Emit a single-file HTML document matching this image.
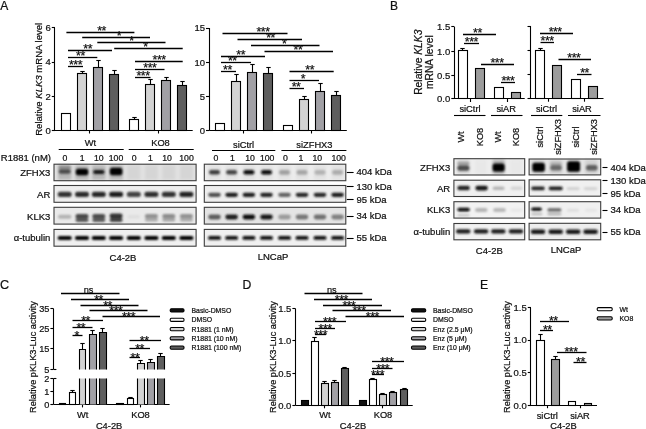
<!DOCTYPE html>
<html><head><meta charset="utf-8"><title>Figure</title>
<style>
html,body{margin:0;padding:0;background:#fff;}
body{width:646px;height:429px;overflow:hidden;}
svg{display:block;will-change:transform;filter:blur(0.3px);}
svg text{font-family:"Liberation Sans", sans-serif;fill:#111;stroke:#111;stroke-width:0.22px;}
</style></head>
<body>
<svg width="646" height="429" viewBox="0 0 646 429">
<rect width="646" height="429" fill="#fff"/>
<text x="0.3" y="9.6" font-size="12" text-anchor="start">A</text>
<text x="389.9" y="9.6" font-size="12" text-anchor="start">B</text>
<text x="0" y="288.7" font-size="12.6" text-anchor="start">C</text>
<text x="242.6" y="288.7" font-size="12.2" text-anchor="start">D</text>
<text x="480" y="288.7" font-size="12.2" text-anchor="start">E</text>
<line x1="54.5" y1="27.8" x2="54.5" y2="130.5" stroke="#000" stroke-width="1.1"/>
<line x1="51.8" y1="27.5" x2="55" y2="27.5" stroke="#000" stroke-width="1.1"/>
<text x="50.8" y="31.22" font-size="9.5" text-anchor="end">6</text>
<line x1="51.8" y1="62.5" x2="55" y2="62.5" stroke="#000" stroke-width="1.1"/>
<text x="50.8" y="65.42" font-size="9.5" text-anchor="end">4</text>
<line x1="51.8" y1="96.5" x2="55" y2="96.5" stroke="#000" stroke-width="1.1"/>
<text x="50.8" y="99.72" font-size="9.5" text-anchor="end">2</text>
<line x1="51.8" y1="130.5" x2="55" y2="130.5" stroke="#000" stroke-width="1.1"/>
<text x="50.8" y="133.92" font-size="9.5" text-anchor="end">0</text>
<line x1="55" y1="130.5" x2="192.7" y2="130.5" stroke="#000" stroke-width="1.1"/>
<line x1="89.5" y1="130.5" x2="89.5" y2="133.5" stroke="#000" stroke-width="1.1"/>
<line x1="158.5" y1="130.5" x2="158.5" y2="133.5" stroke="#000" stroke-width="1.1"/>
<rect x="61.5" y="113.5" width="9" height="17" fill="#ffffff" stroke="#000" stroke-width="1.1"/>
<line x1="82.5" y1="73" x2="82.5" y2="71.2" stroke="#000" stroke-width="1.1"/>
<line x1="80.3" y1="71.5" x2="84.7" y2="71.5" stroke="#000" stroke-width="1.1"/>
<rect x="77.5" y="73.5" width="9" height="57" fill="#d3d3d3" stroke="#000" stroke-width="1.1"/>
<line x1="98.5" y1="67" x2="98.5" y2="60.2" stroke="#000" stroke-width="1.1"/>
<line x1="96.3" y1="60.5" x2="100.7" y2="60.5" stroke="#000" stroke-width="1.1"/>
<rect x="93.5" y="67.5" width="9" height="63" fill="#a1a0a5" stroke="#000" stroke-width="1.1"/>
<line x1="114.5" y1="74" x2="114.5" y2="70.3" stroke="#000" stroke-width="1.1"/>
<line x1="112.3" y1="70.5" x2="116.7" y2="70.5" stroke="#000" stroke-width="1.1"/>
<rect x="109.5" y="74.5" width="9" height="56" fill="#5e5e5e" stroke="#000" stroke-width="1.1"/>
<line x1="134.5" y1="119" x2="134.5" y2="117.2" stroke="#000" stroke-width="1.1"/>
<line x1="132.3" y1="117.5" x2="136.7" y2="117.5" stroke="#000" stroke-width="1.1"/>
<rect x="129.5" y="119.5" width="9" height="11" fill="#ffffff" stroke="#000" stroke-width="1.1"/>
<line x1="150.5" y1="84" x2="150.5" y2="79.9" stroke="#000" stroke-width="1.1"/>
<line x1="148.3" y1="79.5" x2="152.7" y2="79.5" stroke="#000" stroke-width="1.1"/>
<rect x="145.5" y="84.5" width="9" height="46" fill="#d3d3d3" stroke="#000" stroke-width="1.1"/>
<line x1="166.5" y1="80" x2="166.5" y2="77.1" stroke="#000" stroke-width="1.1"/>
<line x1="164.3" y1="77.5" x2="168.7" y2="77.5" stroke="#000" stroke-width="1.1"/>
<rect x="161.5" y="80.5" width="9" height="50" fill="#a1a0a5" stroke="#000" stroke-width="1.1"/>
<line x1="182.5" y1="85" x2="182.5" y2="81.7" stroke="#000" stroke-width="1.1"/>
<line x1="180.3" y1="81.5" x2="184.7" y2="81.5" stroke="#000" stroke-width="1.1"/>
<rect x="177.5" y="85.5" width="9" height="45" fill="#5e5e5e" stroke="#000" stroke-width="1.1"/>
<line x1="66.4" y1="32.5" x2="134.4" y2="32.5" stroke="#000" stroke-width="1.3"/>
<text x="101.6" y="35.45" font-size="12.4" text-anchor="middle" letter-spacing="-0.5">**</text>
<line x1="82.2" y1="37.5" x2="150" y2="37.5" stroke="#000" stroke-width="1.3"/>
<text x="118.8" y="40.45" font-size="12.4" text-anchor="middle" letter-spacing="-0.5">*</text>
<line x1="97.3" y1="42.5" x2="165.5" y2="42.5" stroke="#000" stroke-width="1.3"/>
<text x="131.5" y="45.45" font-size="12.4" text-anchor="middle" letter-spacing="-0.5">*</text>
<line x1="68" y1="50.5" x2="112" y2="50.5" stroke="#000" stroke-width="1.3"/>
<text x="87.7" y="53.45" font-size="12.4" text-anchor="middle" letter-spacing="-0.5">**</text>
<line x1="114.2" y1="48.5" x2="182.7" y2="48.5" stroke="#000" stroke-width="1.3"/>
<text x="145.5" y="51.45" font-size="12.4" text-anchor="middle" letter-spacing="-0.5">*</text>
<line x1="68" y1="57.5" x2="97.3" y2="57.5" stroke="#000" stroke-width="1.3"/>
<text x="80.4" y="60.45" font-size="12.4" text-anchor="middle" letter-spacing="-0.5">**</text>
<line x1="68" y1="66.5" x2="83" y2="66.5" stroke="#000" stroke-width="1.3"/>
<text x="75.5" y="69.45" font-size="12.4" text-anchor="middle" letter-spacing="-0.5">***</text>
<line x1="135" y1="61.5" x2="182.7" y2="61.5" stroke="#000" stroke-width="1.3"/>
<text x="159.1" y="64.45" font-size="12.4" text-anchor="middle" letter-spacing="-0.5">***</text>
<line x1="135" y1="69.5" x2="164.5" y2="69.5" stroke="#000" stroke-width="1.3"/>
<text x="149.8" y="72.45" font-size="12.4" text-anchor="middle" letter-spacing="-0.5">***</text>
<line x1="135" y1="77.5" x2="150.5" y2="77.5" stroke="#000" stroke-width="1.3"/>
<text x="143" y="80.45" font-size="12.4" text-anchor="middle" letter-spacing="-0.5">***</text>
<text transform="translate(42,79.3) rotate(-90)" font-size="9.55" text-anchor="middle">Relative <tspan font-style="italic">KLK3</tspan> mRNA level</text>
<line x1="209.5" y1="28" x2="209.5" y2="130.5" stroke="#000" stroke-width="1.1"/>
<line x1="206" y1="28.5" x2="209.2" y2="28.5" stroke="#000" stroke-width="1.1"/>
<text x="205" y="31.42" font-size="9.5" text-anchor="end">15</text>
<line x1="206" y1="62.5" x2="209.2" y2="62.5" stroke="#000" stroke-width="1.1"/>
<text x="205" y="65.72" font-size="9.5" text-anchor="end">10</text>
<line x1="206" y1="96.5" x2="209.2" y2="96.5" stroke="#000" stroke-width="1.1"/>
<text x="205" y="99.92" font-size="9.5" text-anchor="end">5</text>
<line x1="206" y1="130.5" x2="209.2" y2="130.5" stroke="#000" stroke-width="1.1"/>
<text x="205" y="133.92" font-size="9.5" text-anchor="end">0</text>
<line x1="209.2" y1="130.5" x2="346.8" y2="130.5" stroke="#000" stroke-width="1.1"/>
<line x1="243.5" y1="130.5" x2="243.5" y2="133.5" stroke="#000" stroke-width="1.1"/>
<line x1="311.5" y1="130.5" x2="311.5" y2="133.5" stroke="#000" stroke-width="1.1"/>
<rect x="215.5" y="123.5" width="9" height="7" fill="#ffffff" stroke="#000" stroke-width="1.1"/>
<line x1="236.5" y1="81" x2="236.5" y2="74.9" stroke="#000" stroke-width="1.1"/>
<line x1="234.3" y1="74.5" x2="238.7" y2="74.5" stroke="#000" stroke-width="1.1"/>
<rect x="231.5" y="81.5" width="9" height="49" fill="#d3d3d3" stroke="#000" stroke-width="1.1"/>
<line x1="252.5" y1="72" x2="252.5" y2="64.9" stroke="#000" stroke-width="1.1"/>
<line x1="250.3" y1="64.5" x2="254.7" y2="64.5" stroke="#000" stroke-width="1.1"/>
<rect x="247.5" y="72.5" width="9" height="58" fill="#a1a0a5" stroke="#000" stroke-width="1.1"/>
<line x1="268.5" y1="73" x2="268.5" y2="67.5" stroke="#000" stroke-width="1.1"/>
<line x1="266.3" y1="67.5" x2="270.7" y2="67.5" stroke="#000" stroke-width="1.1"/>
<rect x="263.5" y="73.5" width="9" height="57" fill="#5e5e5e" stroke="#000" stroke-width="1.1"/>
<rect x="283.5" y="125.5" width="9" height="5" fill="#ffffff" stroke="#000" stroke-width="1.1"/>
<line x1="304.5" y1="99" x2="304.5" y2="96" stroke="#000" stroke-width="1.1"/>
<line x1="302.3" y1="96.5" x2="306.7" y2="96.5" stroke="#000" stroke-width="1.1"/>
<rect x="299.5" y="99.5" width="9" height="31" fill="#d3d3d3" stroke="#000" stroke-width="1.1"/>
<line x1="320.5" y1="91" x2="320.5" y2="83.7" stroke="#000" stroke-width="1.1"/>
<line x1="318.3" y1="83.5" x2="322.7" y2="83.5" stroke="#000" stroke-width="1.1"/>
<rect x="315.5" y="91.5" width="9" height="39" fill="#a1a0a5" stroke="#000" stroke-width="1.1"/>
<line x1="336.5" y1="95" x2="336.5" y2="91.7" stroke="#000" stroke-width="1.1"/>
<line x1="334.3" y1="91.5" x2="338.7" y2="91.5" stroke="#000" stroke-width="1.1"/>
<rect x="331.5" y="95.5" width="9" height="35" fill="#5e5e5e" stroke="#000" stroke-width="1.1"/>
<line x1="222.5" y1="33.5" x2="287.5" y2="33.5" stroke="#000" stroke-width="1.3"/>
<text x="263" y="36.45" font-size="12.4" text-anchor="middle" letter-spacing="-0.5">***</text>
<line x1="237.5" y1="39.5" x2="302" y2="39.5" stroke="#000" stroke-width="1.3"/>
<text x="270.5" y="42.45" font-size="12.4" text-anchor="middle" letter-spacing="-0.5">**</text>
<line x1="251" y1="45.5" x2="319.5" y2="45.5" stroke="#000" stroke-width="1.3"/>
<text x="284.2" y="48.45" font-size="12.4" text-anchor="middle" letter-spacing="-0.5">*</text>
<line x1="264.5" y1="51.5" x2="333" y2="51.5" stroke="#000" stroke-width="1.3"/>
<text x="297.9" y="54.45" font-size="12.4" text-anchor="middle" letter-spacing="-0.5">**</text>
<line x1="221" y1="56.5" x2="265" y2="56.5" stroke="#000" stroke-width="1.3"/>
<text x="240.7" y="59.45" font-size="12.4" text-anchor="middle" letter-spacing="-0.5">**</text>
<line x1="221" y1="62.5" x2="251" y2="62.5" stroke="#000" stroke-width="1.3"/>
<text x="232.3" y="65.45" font-size="12.4" text-anchor="middle" letter-spacing="-0.5">**</text>
<line x1="221" y1="71.5" x2="236" y2="71.5" stroke="#000" stroke-width="1.3"/>
<text x="227.4" y="74.45" font-size="12.4" text-anchor="middle" letter-spacing="-0.5">**</text>
<line x1="289.5" y1="71.5" x2="333.7" y2="71.5" stroke="#000" stroke-width="1.3"/>
<text x="309.7" y="74.45" font-size="12.4" text-anchor="middle" letter-spacing="-0.5">**</text>
<line x1="289.5" y1="80.5" x2="319" y2="80.5" stroke="#000" stroke-width="1.3"/>
<text x="302.8" y="83.45" font-size="12.4" text-anchor="middle" letter-spacing="-0.5">*</text>
<line x1="289.5" y1="88.5" x2="304" y2="88.5" stroke="#000" stroke-width="1.3"/>
<text x="296" y="91.45" font-size="12.4" text-anchor="middle" letter-spacing="-0.5">**</text>
<text x="90.5" y="146.4" font-size="9.3" text-anchor="middle">Wt</text>
<line x1="58.7" y1="149.5" x2="123.7" y2="149.5" stroke="#000" stroke-width="1.1"/>
<text x="160.5" y="146.4" font-size="9.3" text-anchor="middle">KO8</text>
<line x1="128.7" y1="149.5" x2="193.7" y2="149.5" stroke="#000" stroke-width="1.1"/>
<text x="243.6" y="148" font-size="9.3" text-anchor="middle">siCtrl</text>
<line x1="212" y1="150.5" x2="275.3" y2="150.5" stroke="#000" stroke-width="1.1"/>
<text x="314.4" y="148" font-size="9.3" text-anchor="middle">siZFHX3</text>
<line x1="281.4" y1="150.5" x2="346.4" y2="150.5" stroke="#000" stroke-width="1.1"/>
<text x="0.8" y="161.2" font-size="9.5" text-anchor="start">R1881 (nM)</text>
<text x="64.9" y="161.2" font-size="8.7" text-anchor="middle">0</text>
<text x="82.2" y="161.2" font-size="8.7" text-anchor="middle">1</text>
<text x="98.8" y="161.2" font-size="8.7" text-anchor="middle">10</text>
<text x="116" y="161.2" font-size="8.7" text-anchor="middle">100</text>
<text x="134.2" y="161.2" font-size="8.7" text-anchor="middle">0</text>
<text x="150.3" y="161.2" font-size="8.7" text-anchor="middle">1</text>
<text x="167" y="161.2" font-size="8.7" text-anchor="middle">10</text>
<text x="186.5" y="161.2" font-size="8.7" text-anchor="middle">100</text>
<text x="215.8" y="161.2" font-size="8.7" text-anchor="middle">0</text>
<text x="232.5" y="161.2" font-size="8.7" text-anchor="middle">1</text>
<text x="250" y="161.2" font-size="8.7" text-anchor="middle">10</text>
<text x="267.2" y="161.2" font-size="8.7" text-anchor="middle">100</text>
<text x="285.4" y="161.2" font-size="8.7" text-anchor="middle">0</text>
<text x="301" y="161.2" font-size="8.7" text-anchor="middle">1</text>
<text x="317.3" y="161.2" font-size="8.7" text-anchor="middle">10</text>
<text x="338.7" y="161.2" font-size="8.7" text-anchor="middle">100</text>
<defs><filter id="b1" x="-50%" y="-100%" width="200%" height="300%"><feGaussianBlur stdDeviation="1.25 1.05"/></filter><filter id="b2" x="-50%" y="-100%" width="200%" height="300%"><feGaussianBlur stdDeviation="1.8 1.4"/></filter><linearGradient id="bg" x1="0" y1="0" x2="0" y2="1"><stop offset="0" stop-color="#f4f4f4"/><stop offset="1" stop-color="#ececec"/></linearGradient></defs>
<rect x="54" y="164.2" width="142.1" height="16.5" fill="rgb(226,226,226)"/>
<g filter="url(#b2)">
<rect x="57.95" y="165.2" width="13.5" height="14.5" fill="rgb(182,182,182)"/>
<rect x="75.25" y="165.2" width="13.5" height="14.5" fill="rgb(182,182,182)"/>
<rect x="92.05" y="165.2" width="13.5" height="14.5" fill="rgb(182,182,182)"/>
<rect x="109.35" y="165.2" width="13.5" height="14.5" fill="rgb(182,182,182)"/>
<rect x="127.3" y="165.2" width="13" height="14.5" fill="rgb(213,213,213)"/>
<rect x="144.9" y="165.2" width="13" height="14.5" fill="rgb(213,213,213)"/>
<rect x="162.3" y="165.2" width="13" height="14.5" fill="rgb(213,213,213)"/>
<rect x="179.9" y="165.2" width="13" height="14.5" fill="rgb(213,213,213)"/>
</g>
<g filter="url(#b1)">
<rect x="58.7" y="165.85" width="12" height="3.5" rx="1.75" fill="rgb(140,140,140)"/>
<rect x="58.7" y="169.35" width="12" height="4.5" rx="2.25" fill="rgb(75,75,75)"/>
<rect x="75.75" y="168.75" width="12.5" height="6.5" rx="2.5" fill="rgb(5,5,5)"/>
<rect x="93.05" y="170" width="11.5" height="4" rx="2" fill="rgb(25,25,25)"/>
<rect x="109.85" y="167.85" width="12.5" height="7.5" rx="2.5" fill="rgb(2,2,2)"/>
</g>
<rect x="54" y="164.2" width="142.1" height="16.5" fill="none" stroke="#3c3c3c" stroke-width="1.1"/>
<rect x="54" y="185.5" width="142.1" height="16.8" fill="rgb(238,238,238)"/>
<g filter="url(#b1)">
<rect x="57.7" y="191.7" width="14" height="5.2" rx="2.5" fill="rgb(48,48,48)"/>
<rect x="75" y="191.7" width="14" height="5.2" rx="2.5" fill="rgb(44,44,44)"/>
<rect x="91.8" y="191.7" width="14" height="5.2" rx="2.5" fill="rgb(40,40,40)"/>
<rect x="109.1" y="191.7" width="14" height="5.2" rx="2.5" fill="rgb(26,26,26)"/>
<rect x="126.8" y="191.7" width="14" height="5.2" rx="2.5" fill="rgb(66,66,66)"/>
<rect x="144.4" y="191.7" width="14" height="5.2" rx="2.5" fill="rgb(46,46,46)"/>
<rect x="161.8" y="191.7" width="14" height="5.2" rx="2.5" fill="rgb(50,50,50)"/>
<rect x="179.4" y="191.7" width="14" height="5.2" rx="2.5" fill="rgb(32,32,32)"/>
</g>
<rect x="54" y="185.5" width="142.1" height="16.8" fill="none" stroke="#3c3c3c" stroke-width="1.1"/>
<rect x="54" y="207.3" width="142.1" height="16.8" fill="rgb(234,234,234)"/>
<g filter="url(#b1)">
<rect x="57.95" y="214.8" width="13.5" height="4" rx="2" fill="rgb(178,178,178)"/>
<rect x="75.5" y="214" width="13" height="4.4" rx="2.2" fill="rgb(70,70,70)"/>
<rect x="75.5" y="218" width="13" height="4" rx="2" fill="rgb(88,88,88)"/>
<rect x="92.3" y="214" width="13" height="4.4" rx="2.2" fill="rgb(76,76,76)"/>
<rect x="92.3" y="218" width="13" height="4" rx="2" fill="rgb(92,92,92)"/>
<rect x="109.6" y="213.6" width="13" height="4.8" rx="2.4" fill="rgb(48,48,48)"/>
<rect x="109.6" y="218" width="13" height="4" rx="2" fill="rgb(68,68,68)"/>
<rect x="127.55" y="215.05" width="12.5" height="3.5" rx="1.75" fill="rgb(222,222,222)"/>
<rect x="144.9" y="214.1" width="13" height="4.2" rx="2.1" fill="rgb(145,145,145)"/>
<rect x="144.9" y="218" width="13" height="3.6" rx="1.8" fill="rgb(170,170,170)"/>
<rect x="162.3" y="214.1" width="13" height="4.2" rx="2.1" fill="rgb(140,140,140)"/>
<rect x="162.3" y="218" width="13" height="3.6" rx="1.8" fill="rgb(165,165,165)"/>
<rect x="179.9" y="214.1" width="13" height="4.2" rx="2.1" fill="rgb(145,145,145)"/>
<rect x="179.9" y="218" width="13" height="3.6" rx="1.8" fill="rgb(170,170,170)"/>
</g>
<rect x="54" y="207.3" width="142.1" height="16.8" fill="none" stroke="#3c3c3c" stroke-width="1.1"/>
<rect x="54" y="229.4" width="142.1" height="16.8" fill="rgb(240,240,240)"/>
<g filter="url(#b1)">
<rect x="57.6" y="236" width="14.2" height="4" rx="2" fill="rgb(4,4,4)"/>
<rect x="74.9" y="236" width="14.2" height="4" rx="2" fill="rgb(4,4,4)"/>
<rect x="91.7" y="236" width="14.2" height="4" rx="2" fill="rgb(4,4,4)"/>
<rect x="109" y="236" width="14.2" height="4" rx="2" fill="rgb(4,4,4)"/>
<rect x="126.7" y="236" width="14.2" height="4" rx="2" fill="rgb(4,4,4)"/>
<rect x="144.3" y="236" width="14.2" height="4" rx="2" fill="rgb(4,4,4)"/>
<rect x="161.7" y="236" width="14.2" height="4" rx="2" fill="rgb(4,4,4)"/>
<rect x="179.3" y="236" width="14.2" height="4" rx="2" fill="rgb(4,4,4)"/>
</g>
<rect x="54" y="229.4" width="142.1" height="16.8" fill="none" stroke="#3c3c3c" stroke-width="1.1"/>
<rect x="204.3" y="164.2" width="141.5" height="16.5" fill="rgb(236,236,236)"/>
<g filter="url(#b2)">
<rect x="208.5" y="165.2" width="12" height="14.5" fill="rgb(226,226,226)"/>
<rect x="225.6" y="165.2" width="12" height="14.5" fill="rgb(226,226,226)"/>
<rect x="242.9" y="165.2" width="12" height="14.5" fill="rgb(226,226,226)"/>
<rect x="260.5" y="165.2" width="12" height="14.5" fill="rgb(226,226,226)"/>
<rect x="278.5" y="165.2" width="12" height="14.5" fill="rgb(226,226,226)"/>
<rect x="296" y="165.2" width="12" height="14.5" fill="rgb(226,226,226)"/>
<rect x="314" y="165.2" width="12" height="14.5" fill="rgb(226,226,226)"/>
<rect x="331.6" y="165.2" width="12" height="14.5" fill="rgb(226,226,226)"/>
</g>
<g filter="url(#b1)">
<rect x="209" y="170" width="11" height="4.6" rx="2.3" fill="rgb(62,62,62)"/>
<rect x="226.1" y="170" width="11" height="4.6" rx="2.3" fill="rgb(68,68,68)"/>
<rect x="243.4" y="170" width="11" height="4.6" rx="2.3" fill="rgb(16,16,16)"/>
<rect x="261" y="170" width="11" height="4.6" rx="2.3" fill="rgb(10,10,10)"/>
<rect x="279" y="170.1" width="11" height="4.6" rx="2.3" fill="rgb(160,160,160)"/>
<rect x="296.5" y="170.1" width="11" height="4.6" rx="2.3" fill="rgb(166,166,166)"/>
<rect x="314.5" y="170.1" width="11" height="4.6" rx="2.3" fill="rgb(178,178,178)"/>
<rect x="332.1" y="170.1" width="11" height="4.6" rx="2.3" fill="rgb(172,172,172)"/>
</g>
<rect x="204.3" y="164.2" width="141.5" height="16.5" fill="none" stroke="#3c3c3c" stroke-width="1.1"/>
<rect x="204.3" y="185.5" width="141.5" height="16.8" fill="rgb(238,238,238)"/>
<g filter="url(#b1)">
<rect x="208.25" y="192.7" width="12.5" height="4.2" rx="2.1" fill="rgb(80,80,80)"/>
<rect x="225.35" y="192.7" width="12.5" height="4.2" rx="2.1" fill="rgb(30,30,30)"/>
<rect x="242.65" y="192.7" width="12.5" height="4.2" rx="2.1" fill="rgb(28,28,28)"/>
<rect x="260.25" y="192.7" width="12.5" height="4.2" rx="2.1" fill="rgb(36,36,36)"/>
<rect x="278.25" y="192.7" width="12.5" height="4.2" rx="2.1" fill="rgb(100,100,100)"/>
<rect x="295.75" y="192.7" width="12.5" height="4.2" rx="2.1" fill="rgb(40,40,40)"/>
<rect x="313.75" y="192.7" width="12.5" height="4.2" rx="2.1" fill="rgb(40,40,40)"/>
<rect x="331.35" y="192.7" width="12.5" height="4.2" rx="2.1" fill="rgb(30,30,30)"/>
</g>
<rect x="204.3" y="185.5" width="141.5" height="16.8" fill="none" stroke="#3c3c3c" stroke-width="1.1"/>
<rect x="204.3" y="207.3" width="141.5" height="16.8" fill="rgb(228,228,228)"/>
<g filter="url(#b1)">
<rect x="208.25" y="214.6" width="12.5" height="4.8" rx="2.4" fill="rgb(92,92,92)"/>
<rect x="225.35" y="214.6" width="12.5" height="4.8" rx="2.4" fill="rgb(30,30,30)"/>
<rect x="242.65" y="214.6" width="12.5" height="4.8" rx="2.4" fill="rgb(14,14,14)"/>
<rect x="260.25" y="214.6" width="12.5" height="4.8" rx="2.4" fill="rgb(24,24,24)"/>
<rect x="278.25" y="214.6" width="12.5" height="4.8" rx="2.4" fill="rgb(155,155,155)"/>
<rect x="295.75" y="214.6" width="12.5" height="4.8" rx="2.4" fill="rgb(118,118,118)"/>
<rect x="313.75" y="214.6" width="12.5" height="4.8" rx="2.4" fill="rgb(112,112,112)"/>
<rect x="331.35" y="214.6" width="12.5" height="4.8" rx="2.4" fill="rgb(128,128,128)"/>
</g>
<rect x="204.3" y="207.3" width="141.5" height="16.8" fill="none" stroke="#3c3c3c" stroke-width="1.1"/>
<rect x="204.3" y="229.4" width="141.5" height="16.8" fill="rgb(240,240,240)"/>
<g filter="url(#b1)">
<rect x="208" y="235.95" width="13" height="3.9" rx="1.95" fill="rgb(10,10,10)"/>
<rect x="225.1" y="235.95" width="13" height="3.9" rx="1.95" fill="rgb(10,10,10)"/>
<rect x="242.4" y="235.95" width="13" height="3.9" rx="1.95" fill="rgb(10,10,10)"/>
<rect x="260" y="235.95" width="13" height="3.9" rx="1.95" fill="rgb(10,10,10)"/>
<rect x="278" y="235.95" width="13" height="3.9" rx="1.95" fill="rgb(10,10,10)"/>
<rect x="295.5" y="235.95" width="13" height="3.9" rx="1.95" fill="rgb(10,10,10)"/>
<rect x="313.5" y="235.95" width="13" height="3.9" rx="1.95" fill="rgb(10,10,10)"/>
<rect x="331.1" y="235.95" width="13" height="3.9" rx="1.95" fill="rgb(10,10,10)"/>
</g>
<rect x="204.3" y="229.4" width="141.5" height="16.8" fill="none" stroke="#3c3c3c" stroke-width="1.1"/>
<text x="50.3" y="176.1" font-size="9.5" text-anchor="end">ZFHX3</text>
<text x="50.3" y="197.6" font-size="9.5" text-anchor="end">AR</text>
<text x="50.3" y="219.6" font-size="9.5" text-anchor="end">KLK3</text>
<text x="50.3" y="241.4" font-size="9.5" text-anchor="end">&#945;-tubulin</text>
<line x1="346.8" y1="172.5" x2="353.6" y2="172.5" stroke="#000" stroke-width="1.1"/>
<text x="356.5" y="175.4" font-size="9.5" text-anchor="start">404 kDa</text>
<line x1="346.8" y1="186.5" x2="353.6" y2="186.5" stroke="#000" stroke-width="1.1"/>
<text x="356.5" y="190.4" font-size="9.5" text-anchor="start">130 kDa</text>
<line x1="346.8" y1="199.5" x2="353.6" y2="199.5" stroke="#000" stroke-width="1.1"/>
<text x="356.5" y="202.9" font-size="9.5" text-anchor="start">95 kDa</text>
<line x1="346.8" y1="216.5" x2="353.6" y2="216.5" stroke="#000" stroke-width="1.1"/>
<text x="356.5" y="219.4" font-size="9.5" text-anchor="start">34 kDa</text>
<line x1="346.8" y1="238.5" x2="353.6" y2="238.5" stroke="#000" stroke-width="1.1"/>
<text x="356.5" y="241.4" font-size="9.5" text-anchor="start">55 kDa</text>
<text x="123" y="260.5" font-size="9.5" text-anchor="middle">C4-2B</text>
<text x="273" y="259.5" font-size="9.5" text-anchor="middle">LNCaP</text>
<line x1="454.5" y1="27" x2="454.5" y2="99" stroke="#000" stroke-width="1.1"/>
<line x1="451.3" y1="26.5" x2="454.5" y2="26.5" stroke="#000" stroke-width="1.1"/>
<text x="450.3" y="30.42" font-size="9.5" text-anchor="end">1.5</text>
<line x1="451.3" y1="51.5" x2="454.5" y2="51.5" stroke="#000" stroke-width="1.1"/>
<text x="450.3" y="54.62" font-size="9.5" text-anchor="end">1.0</text>
<line x1="451.3" y1="75.5" x2="454.5" y2="75.5" stroke="#000" stroke-width="1.1"/>
<text x="450.3" y="78.52" font-size="9.5" text-anchor="end">0.5</text>
<line x1="451.3" y1="98.5" x2="454.5" y2="98.5" stroke="#000" stroke-width="1.1"/>
<text x="450.3" y="102.42" font-size="9.5" text-anchor="end">0.0</text>
<line x1="454.5" y1="98.5" x2="524.7" y2="98.5" stroke="#000" stroke-width="1.1"/>
<line x1="470.5" y1="99" x2="470.5" y2="102" stroke="#000" stroke-width="1.1"/>
<line x1="507.5" y1="99" x2="507.5" y2="102" stroke="#000" stroke-width="1.1"/>
<line x1="462.5" y1="50" x2="462.5" y2="48.3" stroke="#000" stroke-width="1.1"/>
<line x1="460.3" y1="48.5" x2="464.7" y2="48.5" stroke="#000" stroke-width="1.1"/>
<rect x="458.5" y="50.5" width="9" height="48" fill="#ffffff" stroke="#000" stroke-width="1.1"/>
<rect x="475.5" y="68.5" width="9" height="30" fill="#9c9c9c" stroke="#000" stroke-width="1.1"/>
<rect x="494.5" y="87.5" width="9" height="11" fill="#ffffff" stroke="#000" stroke-width="1.1"/>
<rect x="511.5" y="92.5" width="9" height="6" fill="#9c9c9c" stroke="#000" stroke-width="1.1"/>
<line x1="463" y1="34.5" x2="496" y2="34.5" stroke="#000" stroke-width="1.3"/>
<text x="477.4" y="37.05" font-size="12.4" text-anchor="middle" letter-spacing="-0.5">**</text>
<line x1="464" y1="43.5" x2="479" y2="43.5" stroke="#000" stroke-width="1.3"/>
<text x="471.3" y="46.05" font-size="12.4" text-anchor="middle" letter-spacing="-0.5">***</text>
<line x1="481" y1="64.5" x2="514" y2="64.5" stroke="#000" stroke-width="1.3"/>
<text x="497" y="67.05" font-size="12.4" text-anchor="middle" letter-spacing="-0.5">***</text>
<line x1="501" y1="82.5" x2="515" y2="82.5" stroke="#000" stroke-width="1.3"/>
<text x="507.9" y="85.05" font-size="12.4" text-anchor="middle" letter-spacing="-0.5">***</text>
<line x1="530.5" y1="26.2" x2="530.5" y2="98.7" stroke="#000" stroke-width="1.1"/>
<line x1="527.5" y1="26.5" x2="531" y2="26.5" stroke="#000" stroke-width="1.1"/>
<line x1="527.5" y1="50.5" x2="531" y2="50.5" stroke="#000" stroke-width="1.1"/>
<line x1="527.5" y1="74.5" x2="531" y2="74.5" stroke="#000" stroke-width="1.1"/>
<line x1="527.5" y1="98.5" x2="531" y2="98.5" stroke="#000" stroke-width="1.1"/>
<line x1="531" y1="98.5" x2="603.5" y2="98.5" stroke="#000" stroke-width="1.1"/>
<line x1="548.5" y1="98.7" x2="548.5" y2="101.7" stroke="#000" stroke-width="1.1"/>
<line x1="584.5" y1="98.7" x2="584.5" y2="101.7" stroke="#000" stroke-width="1.1"/>
<line x1="540.5" y1="50" x2="540.5" y2="48.3" stroke="#000" stroke-width="1.1"/>
<line x1="538.3" y1="48.5" x2="542.7" y2="48.5" stroke="#000" stroke-width="1.1"/>
<rect x="535.5" y="50.5" width="9" height="48" fill="#ffffff" stroke="#000" stroke-width="1.1"/>
<rect x="552.5" y="65.5" width="9" height="33" fill="#9c9c9c" stroke="#000" stroke-width="1.1"/>
<rect x="571.5" y="79.5" width="9" height="19" fill="#ffffff" stroke="#000" stroke-width="1.1"/>
<rect x="588.5" y="86.5" width="9" height="12" fill="#9c9c9c" stroke="#000" stroke-width="1.1"/>
<line x1="540" y1="33.5" x2="573" y2="33.5" stroke="#000" stroke-width="1.3"/>
<text x="555.2" y="36.05" font-size="12.4" text-anchor="middle" letter-spacing="-0.5">***</text>
<line x1="540.5" y1="42.5" x2="554" y2="42.5" stroke="#000" stroke-width="1.3"/>
<text x="547.1" y="45.05" font-size="12.4" text-anchor="middle" letter-spacing="-0.5">***</text>
<line x1="558.5" y1="59.5" x2="591" y2="59.5" stroke="#000" stroke-width="1.3"/>
<text x="573.8" y="62.05" font-size="12.4" text-anchor="middle" letter-spacing="-0.5">***</text>
<line x1="577" y1="74.5" x2="591.5" y2="74.5" stroke="#000" stroke-width="1.3"/>
<text x="584.5" y="77.05" font-size="12.4" text-anchor="middle" letter-spacing="-0.5">**</text>
<text transform="translate(421.5,62.2) rotate(-90)" font-size="10.3" text-anchor="middle">Relative <tspan font-style="italic">KLK3</tspan></text>
<text transform="translate(432.9,62.2) rotate(-90)" font-size="10.3" text-anchor="middle">mRNA level</text>
<text x="470" y="111.8" font-size="9.3" text-anchor="middle">siCtrl</text>
<line x1="454" y1="115.5" x2="485.5" y2="115.5" stroke="#000" stroke-width="1.1"/>
<text x="506.2" y="111.8" font-size="9.3" text-anchor="middle">siAR</text>
<line x1="491" y1="115.5" x2="522.5" y2="115.5" stroke="#000" stroke-width="1.1"/>
<text x="546.5" y="111.8" font-size="9.3" text-anchor="middle">siCtrl</text>
<line x1="531" y1="115.5" x2="562.3" y2="115.5" stroke="#000" stroke-width="1.1"/>
<text x="582" y="111.8" font-size="9.3" text-anchor="middle">siAR</text>
<line x1="568" y1="115.5" x2="600.5" y2="115.5" stroke="#000" stroke-width="1.1"/>
<text transform="translate(464.31,137) rotate(-90)" font-size="9.2" text-anchor="middle">Wt</text>
<text transform="translate(483.31,137) rotate(-90)" font-size="9.2" text-anchor="middle">KO8</text>
<text transform="translate(500.81,137) rotate(-90)" font-size="9.2" text-anchor="middle">Wt</text>
<text transform="translate(519.31,137) rotate(-90)" font-size="9.2" text-anchor="middle">KO8</text>
<text transform="translate(542.91,137) rotate(-90)" font-size="9.2" text-anchor="middle">siCtrl</text>
<text transform="translate(561.31,137) rotate(-90)" font-size="9.2" text-anchor="middle">siZFHX3</text>
<text transform="translate(579.31,137) rotate(-90)" font-size="9.2" text-anchor="middle">siCtrl</text>
<text transform="translate(597.31,137) rotate(-90)" font-size="9.2" text-anchor="middle">siZFHX3</text>
<rect x="453.9" y="158.7" width="70.8" height="16.3" fill="rgb(238,238,238)"/>
<g filter="url(#b2)">
<rect x="457.4" y="159.7" width="12" height="14.3" fill="rgb(216,216,216)"/>
<rect x="475.1" y="159.7" width="12" height="14.3" fill="rgb(232,232,232)"/>
<rect x="492.6" y="159.7" width="12" height="14.3" fill="rgb(178,178,178)"/>
<rect x="510" y="159.7" width="12" height="14.3" fill="rgb(232,232,232)"/>
</g>
<g filter="url(#b1)">
<rect x="457.4" y="161.85" width="12" height="3.5" rx="1.75" fill="rgb(160,160,160)"/>
<rect x="457.4" y="165.25" width="12" height="5.5" rx="2.5" fill="rgb(75,75,75)"/>
<rect x="492.6" y="163.4" width="12" height="8" rx="2.5" fill="rgb(6,6,6)"/>
</g>
<rect x="453.9" y="158.7" width="70.8" height="16.3" fill="none" stroke="#3c3c3c" stroke-width="1.1"/>
<rect x="453.9" y="180.2" width="70.8" height="16.3" fill="rgb(240,240,240)"/>
<g filter="url(#b1)">
<rect x="457.4" y="185.8" width="12.4" height="4.4" rx="2.2" fill="rgb(32,32,32)"/>
<rect x="475.4" y="185.8" width="12.4" height="4.6" rx="2.3" fill="rgb(18,18,18)"/>
<rect x="492.7" y="186.45" width="11.8" height="3.5" rx="1.75" fill="rgb(180,180,180)"/>
<rect x="510.65" y="186.45" width="11.7" height="3.5" rx="1.75" fill="rgb(212,212,212)"/>
</g>
<rect x="453.9" y="180.2" width="70.8" height="16.3" fill="none" stroke="#3c3c3c" stroke-width="1.1"/>
<rect x="453.9" y="201.7" width="70.8" height="16.4" fill="rgb(242,242,242)"/>
<g filter="url(#b1)">
<rect x="457.4" y="207.7" width="12.4" height="3.8" rx="1.9" fill="rgb(12,12,12)"/>
<rect x="457.6" y="213.9" width="12" height="2.6" rx="1.3" fill="rgb(200,200,200)"/>
<rect x="475.05" y="208" width="12.5" height="4" rx="2" fill="rgb(180,180,180)"/>
<rect x="493.1" y="208" width="12.8" height="4" rx="2" fill="rgb(184,184,184)"/>
<rect x="510.5" y="208.45" width="12" height="3.5" rx="1.75" fill="rgb(232,232,232)"/>
</g>
<rect x="453.9" y="201.7" width="70.8" height="16.4" fill="none" stroke="#3c3c3c" stroke-width="1.1"/>
<rect x="453.9" y="223.5" width="70.8" height="16.3" fill="rgb(242,242,242)"/>
<g filter="url(#b1)">
<rect x="455.95" y="229.3" width="14.5" height="4.2" rx="2.1" fill="rgb(28,28,28)"/>
<rect x="473.85" y="229.3" width="14.5" height="4.2" rx="2.1" fill="rgb(28,28,28)"/>
<rect x="491.05" y="229.3" width="14.5" height="4.2" rx="2.1" fill="rgb(28,28,28)"/>
<rect x="508.75" y="229.3" width="14.5" height="4.2" rx="2.1" fill="rgb(28,28,28)"/>
</g>
<rect x="453.9" y="223.5" width="70.8" height="16.3" fill="none" stroke="#3c3c3c" stroke-width="1.1"/>
<rect x="529.1" y="159" width="71.6" height="15.9" fill="rgb(230,230,230)"/>
<g filter="url(#b2)">
<rect x="532.3" y="160" width="12" height="13.9" fill="rgb(208,208,208)"/>
<rect x="549.9" y="160" width="12" height="13.9" fill="rgb(208,208,208)"/>
<rect x="567.4" y="160" width="12" height="13.9" fill="rgb(208,208,208)"/>
<rect x="585.2" y="160" width="12" height="13.9" fill="rgb(208,208,208)"/>
</g>
<g filter="url(#b1)">
<rect x="532.35" y="162.7" width="12.5" height="9" rx="2.5" fill="rgb(0,0,0)"/>
<rect x="550.25" y="162.5" width="11.5" height="3" rx="1.5" fill="rgb(170,170,170)"/>
<rect x="550.25" y="165.05" width="11.5" height="5.5" rx="2.5" fill="rgb(105,105,105)"/>
<rect x="567.1" y="161.35" width="13" height="10.5" rx="2.5" fill="rgb(0,0,0)"/>
<rect x="586.05" y="165.05" width="11.5" height="5.5" rx="2.5" fill="rgb(95,95,95)"/>
</g>
<rect x="529.1" y="159" width="71.6" height="15.9" fill="none" stroke="#3c3c3c" stroke-width="1.1"/>
<rect x="529.1" y="179.8" width="71.6" height="16.4" fill="rgb(240,240,240)"/>
<g filter="url(#b1)">
<rect x="531.25" y="186.6" width="13.5" height="3.6" rx="1.8" fill="rgb(35,35,35)"/>
<rect x="548.7" y="186.6" width="14" height="3.6" rx="1.8" fill="rgb(30,30,30)"/>
<rect x="566.7" y="187" width="13" height="3.2" rx="1.6" fill="rgb(210,210,210)"/>
<rect x="583.85" y="187" width="13.5" height="3.2" rx="1.6" fill="rgb(212,212,212)"/>
</g>
<rect x="529.1" y="179.8" width="71.6" height="16.4" fill="none" stroke="#3c3c3c" stroke-width="1.1"/>
<rect x="529.1" y="201.7" width="71.6" height="16.4" fill="rgb(240,240,240)"/>
<g filter="url(#b1)">
<rect x="531.25" y="207.55" width="10.5" height="3.5" rx="1.75" fill="rgb(10,10,10)"/>
<rect x="531.3" y="212.65" width="11" height="2.5" rx="1.25" fill="rgb(190,190,190)"/>
<rect x="547.4" y="208.2" width="14" height="3.4" rx="1.7" fill="rgb(100,100,100)"/>
<rect x="547.4" y="212.6" width="14" height="2.8" rx="1.4" fill="rgb(185,185,185)"/>
<rect x="567" y="208.8" width="12" height="3" rx="1.5" fill="rgb(222,222,222)"/>
<rect x="585" y="208.8" width="12" height="3" rx="1.5" fill="rgb(228,228,228)"/>
</g>
<rect x="529.1" y="201.7" width="71.6" height="16.4" fill="none" stroke="#3c3c3c" stroke-width="1.1"/>
<rect x="529.1" y="223.3" width="71.6" height="16.5" fill="rgb(238,238,238)"/>
<g filter="url(#b1)">
<rect x="530.75" y="229.5" width="14.5" height="4.6" rx="2.3" fill="rgb(20,20,20)"/>
<rect x="548.45" y="229.5" width="14.5" height="4.6" rx="2.3" fill="rgb(20,20,20)"/>
<rect x="565.95" y="229.5" width="14.5" height="4.6" rx="2.3" fill="rgb(20,20,20)"/>
<rect x="583.35" y="229.5" width="14.5" height="4.6" rx="2.3" fill="rgb(20,20,20)"/>
</g>
<rect x="529.1" y="223.3" width="71.6" height="16.5" fill="none" stroke="#3c3c3c" stroke-width="1.1"/>
<text x="450.2" y="170.8" font-size="9.5" text-anchor="end">ZFHX3</text>
<text x="450.2" y="191.6" font-size="9.5" text-anchor="end">AR</text>
<text x="450.2" y="213" font-size="9.5" text-anchor="end">KLK3</text>
<text x="450.2" y="235" font-size="9.5" text-anchor="end">&#945;-tubulin</text>
<line x1="602.5" y1="167.5" x2="607.5" y2="167.5" stroke="#000" stroke-width="1.1"/>
<text x="610.5" y="171" font-size="9.5" text-anchor="start">404 kDa</text>
<line x1="602.5" y1="180.5" x2="607.5" y2="180.5" stroke="#000" stroke-width="1.1"/>
<text x="610.5" y="184.1" font-size="9.5" text-anchor="start">130 kDa</text>
<line x1="602.5" y1="193.5" x2="607.5" y2="193.5" stroke="#000" stroke-width="1.1"/>
<text x="610.5" y="197.2" font-size="9.5" text-anchor="start">95 kDa</text>
<line x1="602.5" y1="210.5" x2="607.5" y2="210.5" stroke="#000" stroke-width="1.1"/>
<text x="610.5" y="213.4" font-size="9.5" text-anchor="start">34 kDa</text>
<line x1="602.5" y1="232.5" x2="607.5" y2="232.5" stroke="#000" stroke-width="1.1"/>
<text x="610.5" y="235.4" font-size="9.5" text-anchor="start">55 kDa</text>
<text x="489.3" y="253.5" font-size="9.5" text-anchor="middle">C4-2B</text>
<text x="566" y="253.3" font-size="9.5" text-anchor="middle">LNCaP</text>
<line x1="53.5" y1="308.7" x2="53.5" y2="369.2" stroke="#000" stroke-width="1.1"/>
<line x1="53.5" y1="378.6" x2="53.5" y2="404.4" stroke="#000" stroke-width="1.1"/>
<line x1="50.4" y1="308.5" x2="53.6" y2="308.5" stroke="#000" stroke-width="1.1"/>
<text x="49.4" y="312" font-size="9.2" text-anchor="end">35</text>
<line x1="50.4" y1="328.5" x2="53.6" y2="328.5" stroke="#000" stroke-width="1.1"/>
<text x="49.4" y="332" font-size="9.2" text-anchor="end">25</text>
<line x1="50.4" y1="348.5" x2="53.6" y2="348.5" stroke="#000" stroke-width="1.1"/>
<text x="49.4" y="352" font-size="9.2" text-anchor="end">15</text>
<line x1="50.4" y1="369.5" x2="53.6" y2="369.5" stroke="#000" stroke-width="1.1"/>
<text x="49.4" y="372.5" font-size="9.2" text-anchor="end">5</text>
<line x1="50.4" y1="378.5" x2="53.6" y2="378.5" stroke="#000" stroke-width="1.1"/>
<text x="49.4" y="381.9" font-size="9.2" text-anchor="end">2</text>
<line x1="50.4" y1="391.5" x2="53.6" y2="391.5" stroke="#000" stroke-width="1.1"/>
<text x="49.4" y="395.1" font-size="9.2" text-anchor="end">1</text>
<line x1="50.4" y1="404.5" x2="53.6" y2="404.5" stroke="#000" stroke-width="1.1"/>
<text x="49.4" y="407.7" font-size="9.2" text-anchor="end">0</text>
<line x1="53.6" y1="369.5" x2="56.4" y2="369.5" stroke="#000" stroke-width="1.1"/>
<line x1="53.6" y1="378.5" x2="56.4" y2="378.5" stroke="#000" stroke-width="1.1"/>
<line x1="53.6" y1="404.5" x2="169.6" y2="404.5" stroke="#000" stroke-width="1.1"/>
<line x1="82.5" y1="404.4" x2="82.5" y2="407.4" stroke="#000" stroke-width="1.1"/>
<line x1="140.5" y1="404.4" x2="140.5" y2="407.4" stroke="#000" stroke-width="1.1"/>
<rect x="59.5" y="403.5" width="6" height="1" fill="#111111" stroke="#000" stroke-width="1.1"/>
<line x1="72.5" y1="392" x2="72.5" y2="390" stroke="#000" stroke-width="1.1"/>
<line x1="70.3" y1="390.5" x2="74.7" y2="390.5" stroke="#000" stroke-width="1.1"/>
<rect x="69.5" y="392.5" width="6" height="12" fill="#ffffff" stroke="#000" stroke-width="1.1"/>
<line x1="82.5" y1="349" x2="82.5" y2="343.6" stroke="#000" stroke-width="1.1"/>
<line x1="80.3" y1="343.5" x2="84.7" y2="343.5" stroke="#000" stroke-width="1.1"/>
<path d="M79.5,369.5 V349.5 H85.5 V369.5" fill="#d3d3d3" stroke="#000" stroke-width="1.1"/>
<rect x="79.5" y="378.5" width="6" height="26" fill="#d3d3d3"/>
<path d="M79.5,378.5 V404.5 M85.5,404.5 V378.5" fill="none" stroke="#000" stroke-width="1.1"/>
<line x1="92.5" y1="334" x2="92.5" y2="330.6" stroke="#000" stroke-width="1.1"/>
<line x1="90.3" y1="330.5" x2="94.7" y2="330.5" stroke="#000" stroke-width="1.1"/>
<path d="M89.5,369.5 V334.5 H96.5 V369.5" fill="#a1a0a5" stroke="#000" stroke-width="1.1"/>
<rect x="89.5" y="378.5" width="7" height="26" fill="#a1a0a5"/>
<path d="M89.5,378.5 V404.5 M96.5,404.5 V378.5" fill="none" stroke="#000" stroke-width="1.1"/>
<line x1="102.5" y1="332" x2="102.5" y2="329" stroke="#000" stroke-width="1.1"/>
<line x1="100.3" y1="328.5" x2="104.7" y2="328.5" stroke="#000" stroke-width="1.1"/>
<path d="M99.5,369.5 V332.5 H106.5 V369.5" fill="#5e5e5e" stroke="#000" stroke-width="1.1"/>
<rect x="99.5" y="378.5" width="7" height="26" fill="#5e5e5e"/>
<path d="M99.5,378.5 V404.5 M106.5,404.5 V378.5" fill="none" stroke="#000" stroke-width="1.1"/>
<rect x="116.5" y="403.5" width="7" height="1" fill="#111111" stroke="#000" stroke-width="1.1"/>
<line x1="130.5" y1="398" x2="130.5" y2="397.2" stroke="#000" stroke-width="1.1"/>
<line x1="128.3" y1="397.5" x2="132.7" y2="397.5" stroke="#000" stroke-width="1.1"/>
<rect x="127.5" y="398.5" width="6" height="6" fill="#ffffff" stroke="#000" stroke-width="1.1"/>
<line x1="140.5" y1="363" x2="140.5" y2="361" stroke="#000" stroke-width="1.1"/>
<line x1="138.3" y1="360.5" x2="142.7" y2="360.5" stroke="#000" stroke-width="1.1"/>
<path d="M137.5,369.5 V363.5 H144.5 V369.5" fill="#d3d3d3" stroke="#000" stroke-width="1.1"/>
<rect x="137.5" y="378.5" width="7" height="26" fill="#d3d3d3"/>
<path d="M137.5,378.5 V404.5 M144.5,404.5 V378.5" fill="none" stroke="#000" stroke-width="1.1"/>
<line x1="150.5" y1="362" x2="150.5" y2="359.6" stroke="#000" stroke-width="1.1"/>
<line x1="148.3" y1="359.5" x2="152.7" y2="359.5" stroke="#000" stroke-width="1.1"/>
<path d="M147.5,369.5 V362.5 H154.5 V369.5" fill="#a1a0a5" stroke="#000" stroke-width="1.1"/>
<rect x="147.5" y="378.5" width="7" height="26" fill="#a1a0a5"/>
<path d="M147.5,378.5 V404.5 M154.5,404.5 V378.5" fill="none" stroke="#000" stroke-width="1.1"/>
<line x1="160.5" y1="356" x2="160.5" y2="353.8" stroke="#000" stroke-width="1.1"/>
<line x1="158.3" y1="353.5" x2="162.7" y2="353.5" stroke="#000" stroke-width="1.1"/>
<path d="M157.5,369.5 V356.5 H164.5 V369.5" fill="#5e5e5e" stroke="#000" stroke-width="1.1"/>
<rect x="157.5" y="378.5" width="7" height="26" fill="#5e5e5e"/>
<path d="M157.5,378.5 V404.5 M164.5,404.5 V378.5" fill="none" stroke="#000" stroke-width="1.1"/>
<line x1="61" y1="293.5" x2="119.5" y2="293.5" stroke="#000" stroke-width="1.3"/>
<text x="88.6" y="293" font-size="9.2" text-anchor="middle">ns</text>
<line x1="71" y1="299.5" x2="129" y2="299.5" stroke="#000" stroke-width="1.3"/>
<text x="98.6" y="303.55" font-size="12.4" text-anchor="middle" letter-spacing="-0.5">**</text>
<line x1="80.5" y1="305.5" x2="138.5" y2="305.5" stroke="#000" stroke-width="1.3"/>
<text x="107.5" y="309.55" font-size="12.4" text-anchor="middle" letter-spacing="-0.5">**</text>
<line x1="89.5" y1="310.5" x2="147.5" y2="310.5" stroke="#000" stroke-width="1.3"/>
<text x="115.8" y="314.55" font-size="12.4" text-anchor="middle" letter-spacing="-0.5">***</text>
<line x1="102.5" y1="316.5" x2="160" y2="316.5" stroke="#000" stroke-width="1.3"/>
<text x="128.5" y="320.55" font-size="12.4" text-anchor="middle" letter-spacing="-0.5">***</text>
<line x1="72.5" y1="320.5" x2="103" y2="320.5" stroke="#000" stroke-width="1.3"/>
<text x="85.5" y="324.55" font-size="12.4" text-anchor="middle" letter-spacing="-0.5">**</text>
<line x1="72.5" y1="327.5" x2="92.5" y2="327.5" stroke="#000" stroke-width="1.3"/>
<text x="80.8" y="331.55" font-size="12.4" text-anchor="middle" letter-spacing="-0.5">**</text>
<line x1="72.5" y1="335.5" x2="82.5" y2="335.5" stroke="#000" stroke-width="1.3"/>
<text x="76.7" y="339.55" font-size="12.4" text-anchor="middle" letter-spacing="-0.5">*</text>
<line x1="129.5" y1="340.5" x2="161" y2="340.5" stroke="#000" stroke-width="1.3"/>
<text x="144.2" y="344.55" font-size="12.4" text-anchor="middle" letter-spacing="-0.5">**</text>
<line x1="129.5" y1="348.5" x2="150" y2="348.5" stroke="#000" stroke-width="1.3"/>
<text x="139.6" y="352.55" font-size="12.4" text-anchor="middle" letter-spacing="-0.5">**</text>
<line x1="129.5" y1="357.5" x2="140" y2="357.5" stroke="#000" stroke-width="1.3"/>
<text x="134.9" y="361.55" font-size="12.4" text-anchor="middle" letter-spacing="-0.5">**</text>
<text x="82.6" y="417.6" font-size="9.3" text-anchor="middle">Wt</text>
<text x="140.5" y="417.6" font-size="9.3" text-anchor="middle">KO8</text>
<text x="109.1" y="428.5" font-size="9.3" text-anchor="middle">C4-2B</text>
<text transform="translate(35.6,357) rotate(-90)" font-size="9.2" text-anchor="middle">Relative pKLK3-Luc activity</text>
<rect x="170.2" y="308.8" width="13.8" height="3.2" rx="1.2" fill="#111111" stroke="#000" stroke-width="1.1"/>
<text x="191.5" y="312.9" font-size="6.9" text-anchor="start">Basic-DMSO</text>
<rect x="170.2" y="318.2" width="13.8" height="3.2" rx="1.2" fill="#ffffff" stroke="#000" stroke-width="1.1"/>
<text x="191.5" y="322.3" font-size="6.9" text-anchor="start">DMSO</text>
<rect x="170.2" y="327.5" width="13.8" height="3.2" rx="1.2" fill="#d3d3d3" stroke="#000" stroke-width="1.1"/>
<text x="191.5" y="331.6" font-size="6.9" text-anchor="start">R1881 (1 nM)</text>
<rect x="170.2" y="336.7" width="13.8" height="3.2" rx="1.2" fill="#a1a0a5" stroke="#000" stroke-width="1.1"/>
<text x="191.5" y="340.8" font-size="6.9" text-anchor="start">R1881 (10 nM)</text>
<rect x="170.2" y="346" width="13.8" height="3.2" rx="1.2" fill="#5e5e5e" stroke="#000" stroke-width="1.1"/>
<text x="191.5" y="350.1" font-size="6.9" text-anchor="start">R1881 (100 nM)</text>
<line x1="295.5" y1="308.7" x2="295.5" y2="405.3" stroke="#000" stroke-width="1.1"/>
<line x1="292.4" y1="308.5" x2="295.6" y2="308.5" stroke="#000" stroke-width="1.1"/>
<text x="291.4" y="312.12" font-size="9.5" text-anchor="end">1.5</text>
<line x1="292.4" y1="340.5" x2="295.6" y2="340.5" stroke="#000" stroke-width="1.1"/>
<text x="291.4" y="344.12" font-size="9.5" text-anchor="end">1.0</text>
<line x1="292.4" y1="373.5" x2="295.6" y2="373.5" stroke="#000" stroke-width="1.1"/>
<text x="291.4" y="376.52" font-size="9.5" text-anchor="end">0.5</text>
<line x1="292.4" y1="405.5" x2="295.6" y2="405.5" stroke="#000" stroke-width="1.1"/>
<text x="291.4" y="408.72" font-size="9.5" text-anchor="end">0.0</text>
<line x1="295.6" y1="405.5" x2="412.7" y2="405.5" stroke="#000" stroke-width="1.1"/>
<line x1="324.5" y1="405.3" x2="324.5" y2="408.3" stroke="#000" stroke-width="1.1"/>
<line x1="382.5" y1="405.3" x2="382.5" y2="408.3" stroke="#000" stroke-width="1.1"/>
<rect x="301.5" y="400.5" width="7" height="5" fill="#111111" stroke="#000" stroke-width="1.1"/>
<line x1="314.5" y1="341" x2="314.5" y2="337.4" stroke="#000" stroke-width="1.1"/>
<line x1="312.3" y1="337.5" x2="316.7" y2="337.5" stroke="#000" stroke-width="1.1"/>
<rect x="311.5" y="341.5" width="7" height="64" fill="#ffffff" stroke="#000" stroke-width="1.1"/>
<line x1="324.5" y1="383" x2="324.5" y2="381.8" stroke="#000" stroke-width="1.1"/>
<line x1="322.3" y1="381.5" x2="326.7" y2="381.5" stroke="#000" stroke-width="1.1"/>
<rect x="321.5" y="383.5" width="7" height="22" fill="#d3d3d3" stroke="#000" stroke-width="1.1"/>
<line x1="334.5" y1="382" x2="334.5" y2="381" stroke="#000" stroke-width="1.1"/>
<line x1="332.3" y1="380.5" x2="336.7" y2="380.5" stroke="#000" stroke-width="1.1"/>
<rect x="331.5" y="382.5" width="7" height="23" fill="#a1a0a5" stroke="#000" stroke-width="1.1"/>
<line x1="344.5" y1="368" x2="344.5" y2="367.2" stroke="#000" stroke-width="1.1"/>
<line x1="342.3" y1="367.5" x2="346.7" y2="367.5" stroke="#000" stroke-width="1.1"/>
<rect x="341.5" y="368.5" width="7" height="37" fill="#5e5e5e" stroke="#000" stroke-width="1.1"/>
<rect x="359.5" y="400.5" width="7" height="5" fill="#111111" stroke="#000" stroke-width="1.1"/>
<line x1="372.5" y1="379" x2="372.5" y2="378.4" stroke="#000" stroke-width="1.1"/>
<line x1="370.3" y1="378.5" x2="374.7" y2="378.5" stroke="#000" stroke-width="1.1"/>
<rect x="369.5" y="379.5" width="7" height="26" fill="#ffffff" stroke="#000" stroke-width="1.1"/>
<line x1="382.5" y1="394" x2="382.5" y2="393.8" stroke="#000" stroke-width="1.1"/>
<line x1="380.3" y1="393.5" x2="384.7" y2="393.5" stroke="#000" stroke-width="1.1"/>
<rect x="379.5" y="394.5" width="7" height="11" fill="#d3d3d3" stroke="#000" stroke-width="1.1"/>
<line x1="392.5" y1="392" x2="392.5" y2="391.8" stroke="#000" stroke-width="1.1"/>
<line x1="390.3" y1="391.5" x2="394.7" y2="391.5" stroke="#000" stroke-width="1.1"/>
<rect x="389.5" y="392.5" width="7" height="13" fill="#a1a0a5" stroke="#000" stroke-width="1.1"/>
<line x1="404.5" y1="389" x2="404.5" y2="388.2" stroke="#000" stroke-width="1.1"/>
<line x1="402.3" y1="388.5" x2="406.7" y2="388.5" stroke="#000" stroke-width="1.1"/>
<rect x="400.5" y="389.5" width="7" height="16" fill="#5e5e5e" stroke="#000" stroke-width="1.1"/>
<line x1="304.5" y1="293.5" x2="362.5" y2="293.5" stroke="#000" stroke-width="1.3"/>
<text x="331.8" y="293" font-size="9.2" text-anchor="middle">ns</text>
<line x1="314" y1="299.5" x2="372" y2="299.5" stroke="#000" stroke-width="1.3"/>
<text x="341.3" y="303.55" font-size="12.4" text-anchor="middle" letter-spacing="-0.5">***</text>
<line x1="323" y1="305.5" x2="382" y2="305.5" stroke="#000" stroke-width="1.3"/>
<text x="348.9" y="309.55" font-size="12.4" text-anchor="middle" letter-spacing="-0.5">***</text>
<line x1="332.5" y1="310.5" x2="391" y2="310.5" stroke="#000" stroke-width="1.3"/>
<text x="359" y="314.55" font-size="12.4" text-anchor="middle" letter-spacing="-0.5">***</text>
<line x1="345.5" y1="316.5" x2="404" y2="316.5" stroke="#000" stroke-width="1.3"/>
<text x="372.3" y="320.55" font-size="12.4" text-anchor="middle" letter-spacing="-0.5">***</text>
<line x1="315" y1="321.5" x2="346" y2="321.5" stroke="#000" stroke-width="1.3"/>
<text x="329.5" y="325.55" font-size="12.4" text-anchor="middle" letter-spacing="-0.5">***</text>
<line x1="315" y1="328.5" x2="335" y2="328.5" stroke="#000" stroke-width="1.3"/>
<text x="325.1" y="332.55" font-size="12.4" text-anchor="middle" letter-spacing="-0.5">***</text>
<line x1="315" y1="334.5" x2="326" y2="334.5" stroke="#000" stroke-width="1.3"/>
<text x="320.5" y="338.55" font-size="12.4" text-anchor="middle" letter-spacing="-0.5">***</text>
<line x1="372" y1="361.5" x2="404" y2="361.5" stroke="#000" stroke-width="1.3"/>
<text x="386.8" y="365.55" font-size="12.4" text-anchor="middle" letter-spacing="-0.5">***</text>
<line x1="372" y1="368.5" x2="392.5" y2="368.5" stroke="#000" stroke-width="1.3"/>
<text x="382.7" y="372.55" font-size="12.4" text-anchor="middle" letter-spacing="-0.5">***</text>
<line x1="372" y1="374.5" x2="384" y2="374.5" stroke="#000" stroke-width="1.3"/>
<text x="377.5" y="378.55" font-size="12.4" text-anchor="middle" letter-spacing="-0.5">***</text>
<text x="325" y="418.3" font-size="9.3" text-anchor="middle">Wt</text>
<text x="383" y="418.3" font-size="9.3" text-anchor="middle">KO8</text>
<text x="353" y="428.5" font-size="9.3" text-anchor="middle">C4-2B</text>
<text transform="translate(275.9,357) rotate(-90)" font-size="9.2" text-anchor="middle">Relative pKLK3-Luc activity</text>
<rect x="411.5" y="308.8" width="14.2" height="3.2" rx="1.2" fill="#111111" stroke="#000" stroke-width="1.1"/>
<text x="433" y="312.9" font-size="6.9" text-anchor="start">Basic-DMSO</text>
<rect x="411.5" y="318.2" width="14.2" height="3.2" rx="1.2" fill="#ffffff" stroke="#000" stroke-width="1.1"/>
<text x="433" y="322.3" font-size="6.9" text-anchor="start">DMSO</text>
<rect x="411.5" y="327.5" width="14.2" height="3.2" rx="1.2" fill="#d3d3d3" stroke="#000" stroke-width="1.1"/>
<text x="433" y="331.6" font-size="6.9" text-anchor="start">Enz (2.5 &#956;M)</text>
<rect x="411.5" y="336.7" width="14.2" height="3.2" rx="1.2" fill="#a1a0a5" stroke="#000" stroke-width="1.1"/>
<text x="433" y="340.8" font-size="6.9" text-anchor="start">Enz (5 &#956;M)</text>
<rect x="411.5" y="346" width="14.2" height="3.2" rx="1.2" fill="#5e5e5e" stroke="#000" stroke-width="1.1"/>
<text x="433" y="350.1" font-size="6.9" text-anchor="start">Enz (10 &#956;M)</text>
<line x1="530.5" y1="307.5" x2="530.5" y2="405.2" stroke="#000" stroke-width="1.1"/>
<line x1="527.8" y1="307.5" x2="531" y2="307.5" stroke="#000" stroke-width="1.1"/>
<text x="526.8" y="310.92" font-size="9.5" text-anchor="end">1.5</text>
<line x1="527.8" y1="340.5" x2="531" y2="340.5" stroke="#000" stroke-width="1.1"/>
<text x="526.8" y="343.42" font-size="9.5" text-anchor="end">1.0</text>
<line x1="527.8" y1="372.5" x2="531" y2="372.5" stroke="#000" stroke-width="1.1"/>
<text x="526.8" y="376.12" font-size="9.5" text-anchor="end">0.5</text>
<line x1="527.8" y1="405.5" x2="531" y2="405.5" stroke="#000" stroke-width="1.1"/>
<text x="526.8" y="408.62" font-size="9.5" text-anchor="end">0.0</text>
<line x1="531" y1="405.5" x2="597" y2="405.5" stroke="#000" stroke-width="1.1"/>
<line x1="547.5" y1="405.2" x2="547.5" y2="408.2" stroke="#000" stroke-width="1.1"/>
<line x1="580.5" y1="405.2" x2="580.5" y2="408.2" stroke="#000" stroke-width="1.1"/>
<line x1="540.5" y1="340" x2="540.5" y2="334.5" stroke="#000" stroke-width="1.1"/>
<line x1="538.3" y1="334.5" x2="542.7" y2="334.5" stroke="#000" stroke-width="1.1"/>
<rect x="536.5" y="340.5" width="8" height="65" fill="#ffffff" stroke="#000" stroke-width="1.1"/>
<line x1="555.5" y1="359" x2="555.5" y2="356.7" stroke="#000" stroke-width="1.1"/>
<line x1="553.3" y1="356.5" x2="557.7" y2="356.5" stroke="#000" stroke-width="1.1"/>
<rect x="551.5" y="359.5" width="8" height="46" fill="#9c9c9c" stroke="#000" stroke-width="1.1"/>
<rect x="568.5" y="401.5" width="7" height="4" fill="#ffffff" stroke="#000" stroke-width="1.1"/>
<rect x="584.5" y="403.5" width="7" height="2" fill="#9c9c9c" stroke="#000" stroke-width="1.1"/>
<line x1="540" y1="321.5" x2="569" y2="321.5" stroke="#000" stroke-width="1.3"/>
<text x="553.3" y="324.75" font-size="12.4" text-anchor="middle" letter-spacing="-0.5">**</text>
<line x1="540" y1="330.5" x2="553" y2="330.5" stroke="#000" stroke-width="1.3"/>
<text x="547.3" y="333.75" font-size="12.4" text-anchor="middle" letter-spacing="-0.5">**</text>
<line x1="557" y1="352.5" x2="586.5" y2="352.5" stroke="#000" stroke-width="1.3"/>
<text x="571" y="355.75" font-size="12.4" text-anchor="middle" letter-spacing="-0.5">***</text>
<line x1="573.5" y1="362.5" x2="586.5" y2="362.5" stroke="#000" stroke-width="1.3"/>
<text x="580.4" y="365.75" font-size="12.4" text-anchor="middle" letter-spacing="-0.5">**</text>
<text x="547.3" y="418.6" font-size="9.3" text-anchor="middle">siCtrl</text>
<text x="580" y="418.6" font-size="9.3" text-anchor="middle">siAR</text>
<text x="563.5" y="428.6" font-size="9.3" text-anchor="middle">C4-2B</text>
<text transform="translate(510.3,357) rotate(-90)" font-size="9.2" text-anchor="middle">Relative pKLK3-Luc activity</text>
<rect x="597.2" y="307.6" width="15" height="3.2" rx="1.2" fill="#ffffff" stroke="#000" stroke-width="1.1"/>
<text x="619.5" y="311.7" font-size="6.9" text-anchor="start">Wt</text>
<rect x="597.2" y="316.8" width="15" height="3.2" rx="1.2" fill="#9c9c9c" stroke="#000" stroke-width="1.1"/>
<text x="619.5" y="320.9" font-size="6.9" text-anchor="start">KO8</text>
</svg>
</body></html>
